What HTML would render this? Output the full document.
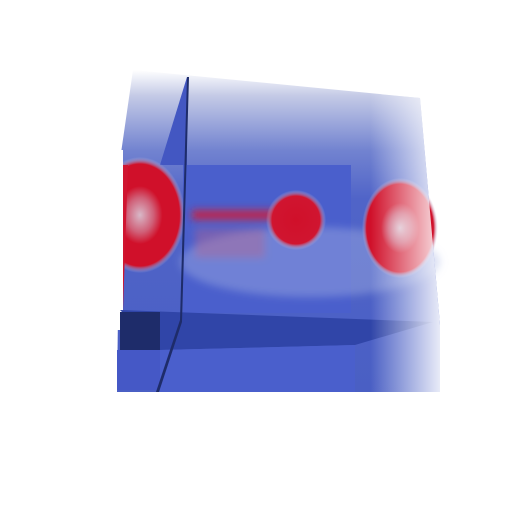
<!DOCTYPE html>
<html><head><meta charset="utf-8"><style>html,body{margin:0;padding:0;background:#fff}svg{display:block}</style></head>
<body>
<svg width="512" height="512" viewBox="0 0 512 512">
<defs>
<linearGradient id="topfade" x1="0" y1="70" x2="0" y2="392" gradientUnits="userSpaceOnUse">
<stop offset="0" stop-color="#fff"/><stop offset="0.08" stop-color="#c4cae6"/><stop offset="0.25" stop-color="#7283d0"/><stop offset="0.4" stop-color="#5064c8"/><stop offset="1" stop-color="#4a5fc4"/></linearGradient>
<linearGradient id="rightfade" x1="117" y1="0" x2="442" y2="0" gradientUnits="userSpaceOnUse">
<stop offset="0" stop-color="#fff" stop-opacity="0"/><stop offset="0.78" stop-color="#fff" stop-opacity="0"/><stop offset="1" stop-color="#fff" stop-opacity="0.9"/></linearGradient>
<radialGradient id="blob" cx="0.5" cy="0.5" r="0.5">
<stop offset="0" stop-color="#d0102a"/><stop offset="0.8" stop-color="#d01530"/><stop offset="1" stop-color="#c8d0ee" stop-opacity="0"/></radialGradient>
<radialGradient id="ring" cx="0.5" cy="0.5" r="0.5">
<stop offset="0" stop-color="#d8b8c8"/><stop offset="0.3" stop-color="#d06078"/><stop offset="0.5" stop-color="#d0102a"/><stop offset="0.88" stop-color="#d0102a"/><stop offset="1" stop-color="#c8d0ee" stop-opacity="0"/></radialGradient>
<filter id="blur"><feGaussianBlur stdDeviation="4"/></filter>
</defs>
<polygon points="133,70 420,98 440,325 440,392 117,392 120,160" fill="url(#topfade)"/>
<polygon points="187,77 187,165 160,165" fill="#4357c2"/>
<rect x="183" y="165" width="168" height="148" fill="#4a5fcc"/>
<g filter="url(#blur)">
<ellipse cx="310" cy="262" rx="130" ry="35" fill="#a8b4e4" opacity="0.4"/>
<rect x="192" y="210" width="90" height="10" fill="#d0203a" opacity="0.85"/>
<rect x="195" y="228" width="70" height="30" fill="#c86080" opacity="0.35"/>
</g>
<ellipse cx="140" cy="215" rx="45" ry="58" fill="url(#ring)"/>
<ellipse cx="296" cy="220" rx="30" ry="30" fill="url(#blob)"/>
<ellipse cx="400" cy="228" rx="38" ry="50" fill="url(#ring)"/>
<rect x="90" y="150" width="33" height="180" fill="#fff"/>
<polygon points="123,165 128,165 123,310" fill="#d01530"/>
<polygon points="120,310 433,322 355,345 160,350" fill="#3045a8"/>
<rect x="120" y="312" width="40" height="38" fill="#1e2c6a"/>
<polygon points="160,350 355,345 355,392 157,392" fill="#4a5fcc"/>
<rect x="117" y="350" width="43" height="40" fill="#4558c6"/>
<polygon points="187,77 189,77 182,322 159,392 156,392 180,320" fill="#1e2c6a"/>
<polygon points="133,70 420,98 440,325 440,392 117,392 120,160" fill="url(#rightfade)"/>
</svg>
</body></html>
